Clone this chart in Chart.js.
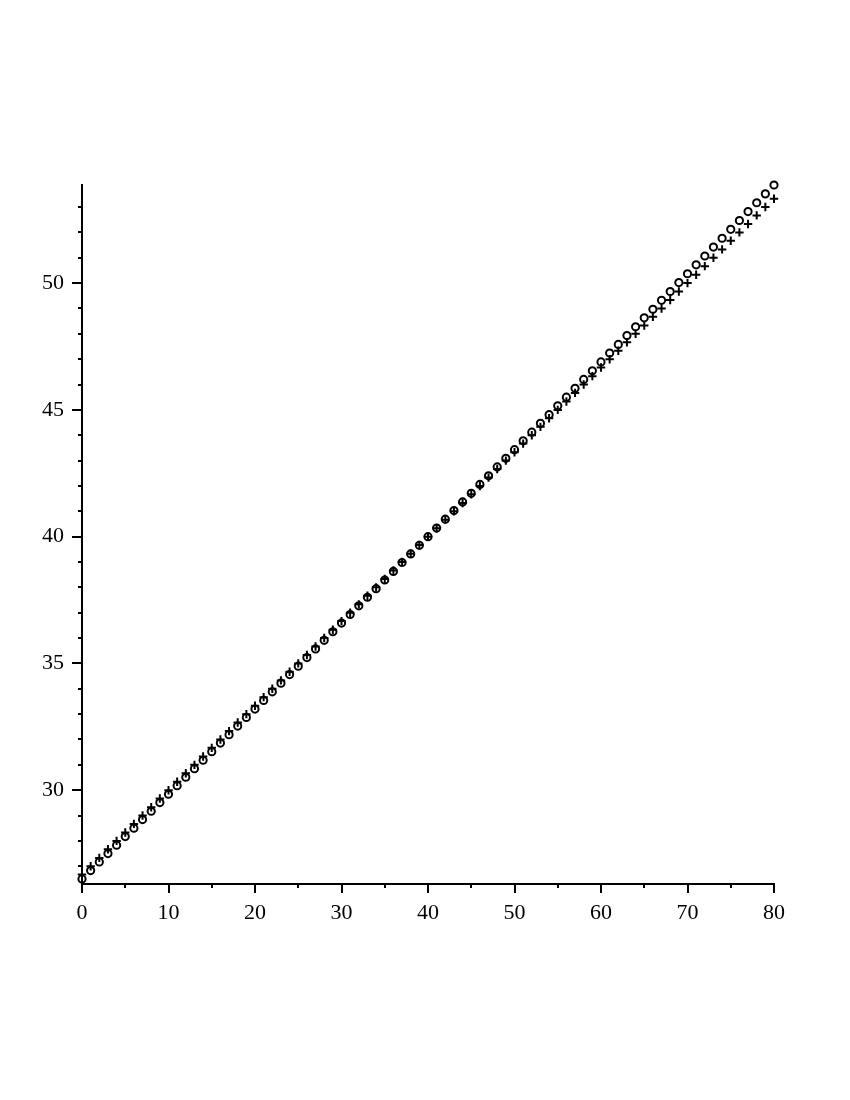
<!DOCTYPE html>
<html>
<head>
<meta charset="utf-8">
<script src="https://cdn.jsdelivr.net/npm/chart.js@4"></script>
<style>
  html, body { margin: 0; padding: 0; background: #fff; }
  #wrap { width: 850px; height: 1100px; }
</style>
</head>
<body>
<div id="wrap"><canvas id="chart"></canvas></div>
<script>
const xValues = [0, 1, 2, 3, 4, 5, 6, 7, 8, 9, 10, 11, 12, 13, 14, 15, 16, 17, 18, 19,
  20, 21, 22, 23, 24, 25, 26, 27, 28, 29, 30, 31, 32, 33, 34, 35, 36, 37, 38, 39,
  40, 41, 42, 43, 44, 45, 46, 47, 48, 49, 50, 51, 52, 53, 54, 55, 56, 57, 58, 59,
  60, 61, 62, 63, 64, 65, 66, 67, 68, 69, 70, 71, 72, 73, 74, 75, 76, 77, 78, 79, 80];

// circles
const circleValues = [26.50, 26.83, 27.17, 27.50, 27.83, 28.17, 28.50, 28.84, 29.17, 29.51,
  29.84, 30.18, 30.51, 30.85, 31.18, 31.52, 31.86, 32.19, 32.53, 32.87,
  33.20, 33.54, 33.88, 34.22, 34.56, 34.89, 35.23, 35.57, 35.91, 36.25,
  36.59, 36.93, 37.27, 37.61, 37.95, 38.29, 38.63, 38.98, 39.32, 39.66,
  40.00, 40.34, 40.69, 41.03, 41.37, 41.71, 42.06, 42.40, 42.75, 43.09,
  43.43, 43.78, 44.12, 44.47, 44.81, 45.16, 45.50, 45.85, 46.20, 46.54,
  46.89, 47.24, 47.58, 47.93, 48.28, 48.63, 48.97, 49.32, 49.67, 50.02,
  50.37, 50.72, 51.07, 51.42, 51.77, 52.12, 52.47, 52.82, 53.17, 53.52, 53.87];

// crosses
const crossValues = [26.67, 27.00, 27.33, 27.67, 28.00, 28.33, 28.67, 29.00, 29.33, 29.67,
  30.00, 30.33, 30.67, 31.00, 31.33, 31.67, 32.00, 32.33, 32.67, 33.00,
  33.33, 33.67, 34.00, 34.33, 34.67, 35.00, 35.33, 35.67, 36.00, 36.33,
  36.67, 37.00, 37.33, 37.67, 38.00, 38.33, 38.67, 39.00, 39.33, 39.67,
  40.00, 40.33, 40.67, 41.00, 41.33, 41.67, 42.00, 42.33, 42.67, 43.00,
  43.33, 43.67, 44.00, 44.33, 44.67, 45.00, 45.33, 45.67, 46.00, 46.33,
  46.67, 47.00, 47.33, 47.67, 48.00, 48.33, 48.67, 49.00, 49.33, 49.67,
  50.00, 50.33, 50.67, 51.00, 51.33, 51.67, 52.00, 52.33, 52.67, 53.00, 53.33];

const xTickValues = [0, 5, 10, 15, 20, 25, 30, 35, 40, 45, 50, 55, 60, 65, 70, 75, 80];
const yTickValues = [27, 28, 29, 30, 31, 32, 33, 34, 35, 36, 37, 38, 39, 40,
  41, 42, 43, 44, 45, 46, 47, 48, 49, 50, 51, 52, 53];

const toPoints = vals => xValues.map((x, i) => ({ x, y: vals[i] }));

// tick marks: long at labelled values, short otherwise
const tickMarks = {
  id: 'tickMarks',
  afterDraw(chart) {
    const { ctx, chartArea, scales: { x, y } } = chart;
    ctx.save();
    ctx.strokeStyle = '#000';
    ctx.lineWidth = 2;
    ctx.beginPath();
    x.ticks.forEach(t => {
      const px = Math.round(x.getPixelForValue(t.value));
      const len = t.value % 10 === 0 ? 9 : 4;
      ctx.moveTo(px, chartArea.bottom);
      ctx.lineTo(px, chartArea.bottom + len);
    });
    y.ticks.forEach(t => {
      const py = Math.round(y.getPixelForValue(t.value));
      const len = t.value % 5 === 0 ? 10 : 4;
      ctx.moveTo(chartArea.left, py);
      ctx.lineTo(chartArea.left - len, py);
    });
    ctx.stroke();
    ctx.restore();
  }
};

const tickFont = { family: "'Liberation Serif', 'DejaVu Serif', serif", size: 22 };

new Chart(document.getElementById('chart'), {
  type: 'scatter',
  data: {
    datasets: [
      {
        label: 'crosses',
        data: toPoints(crossValues),
        pointStyle: 'cross',
        pointRadius: 4.2,
        pointBorderWidth: 2,
        borderColor: '#000',
        backgroundColor: '#000',
        clip: false,
      },
      {
        label: 'circles',
        data: toPoints(circleValues),
        pointStyle: 'circle',
        pointRadius: 3.6,
        pointBorderWidth: 2,
        borderColor: '#000',
        backgroundColor: 'rgba(0,0,0,0)',
        clip: false,
      },
    ],
  },
  options: {
    responsive: true,
    maintainAspectRatio: false,
    animation: false,
    layout: { padding: { left: 0, top: 185, right: 76, bottom: 0 } },
    plugins: { legend: { display: false }, tooltip: { enabled: false } },
    scales: {
      x: {
        type: 'linear',
        min: 0,
        max: 80,
        afterBuildTicks: scale => { scale.ticks = xTickValues.map(v => ({ value: v })); },
        afterFit: scale => { scale.height = 216; },
        grid: { display: true, drawOnChartArea: false, drawTicks: false, color: 'rgba(0,0,0,0)' },
        border: { display: true, color: '#000', width: 2 },
        ticks: {
          color: '#000',
          font: tickFont,
          padding: 16,
          maxRotation: 0,
          autoSkip: false,
          callback: v => (v % 10 === 0 ? String(v) : ''),
        },
      },
      y: {
        type: 'linear',
        min: 26.3,
        max: 53.87,
        afterBuildTicks: scale => { scale.ticks = yTickValues.map(v => ({ value: v })); },
        afterFit: scale => { scale.width = 82; },
        grid: { display: true, drawOnChartArea: false, drawTicks: false, color: 'rgba(0,0,0,0)' },
        border: { display: true, color: '#000', width: 2 },
        ticks: {
          color: '#000',
          font: tickFont,
          padding: 18,
          autoSkip: false,
          callback: v => (v % 5 === 0 ? String(v) : ''),
        },
      },
    },
  },
  plugins: [tickMarks],
});
</script>
</body>
</html>
